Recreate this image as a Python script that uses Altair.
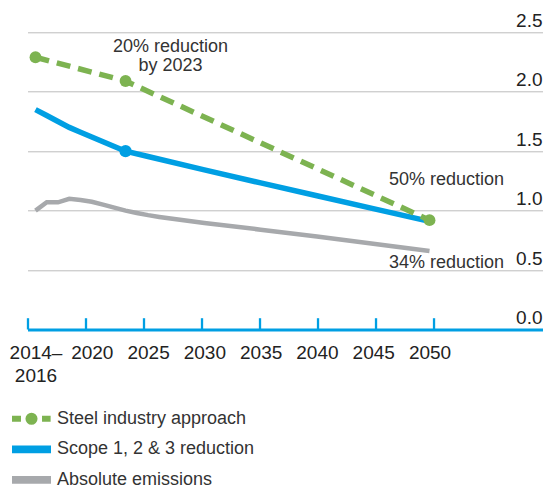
import altair as alt
import pandas as pd

# ---------------- data ----------------
series_names = ["Steel industry approach", "Scope 1, 2 & 3 reduction", "Absolute emissions"]
series_colors = ["#7db351", "#009fe3", "#a7a9ac"]

steel_years = [2015, 2023, 2050]
steel_values = [2.29, 2.09, 0.92]

scope_years = [2015, 2016, 2017, 2018, 2019, 2020, 2021, 2022, 2023, 2025, 2030, 2035, 2040, 2045, 2050]
scope_values = [1.85, 1.80, 1.75, 1.70, 1.66, 1.62, 1.58, 1.54, 1.50, 1.455, 1.343, 1.233, 1.125, 1.017, 0.91]
scope_marker_years = [2023]
scope_marker_values = [1.50]

abs_years = [2015, 2016, 2017, 2018, 2019, 2020, 2021, 2022, 2023, 2024, 2025, 2026, 2030, 2035, 2040, 2045, 2050]
abs_values = [1.00, 1.07, 1.07, 1.10, 1.09, 1.075, 1.05, 1.025, 1.00, 0.98, 0.962, 0.947, 0.895, 0.84, 0.782, 0.722, 0.66]

x_tick_years = [2015, 2020, 2025, 2030, 2035, 2040, 2045, 2050]
y_tick_values = [0.0, 0.5, 1.0, 1.5, 2.0, 2.5]

annot_steel_2023 = "20% reduction\nby 2023"
annot_steel_2050 = "50% reduction"
annot_abs_2050 = "34% reduction"

# legend symbols (custom SVG paths in unit square; circle drawn as a polygon)
legend_symbols = [
    "M-1,-0.15L-0.54,-0.15L-0.54,0.15L-1,0.15Z"
    "M0.54,-0.15L0.98,-0.15L0.98,0.15L0.54,0.15Z"
    "M0.31,0L0.287,0.119L0.219,0.219L0.119,0.287L0,0.31L-0.119,0.287L-0.219,0.219L-0.287,0.119"
    "L-0.31,0L-0.287,-0.119L-0.219,-0.219L-0.119,-0.287L0,-0.31L0.119,-0.287L0.219,-0.219L0.287,-0.119Z",
    "M-1,-0.2L1,-0.2L1,0.2L-1,0.2Z",
    "M-1,-0.2L1,-0.2L1,0.2L-1,0.2Z",
]

FONT = "Liberation Sans"
BLUE = "#009fe3"

steel_df = pd.DataFrame({"year": steel_years, "value": steel_values})
scope_df = pd.DataFrame({"year": scope_years, "value": scope_values})
scope_pt_df = pd.DataFrame({"year": scope_marker_years, "value": scope_marker_values})
abs_df = pd.DataFrame({"year": abs_years, "value": abs_values})
ticks_df = pd.DataFrame({"year": x_tick_years})
legend_df = pd.DataFrame({"series": series_names})

xscale = alt.Scale(domain=[2014.29, 2060.08], nice=False, zero=False)
yscale = alt.Scale(domain=[0, 2.5], nice=False, zero=True)

x_axis = alt.X(
    "year:Q", scale=xscale,
    axis=alt.Axis(
        values=x_tick_years, format="d",
        labelExpr="datum.value == 2015 ? ['2014\u2013', '2016'] : datum.label",
        ticks=False, grid=False,
        domainColor=BLUE, domainWidth=3,
        labelFont=FONT, labelFontSize=19, labelColor="#222",
        labelPadding=14, labelFlush=False, labelOverlap=False,
        labelLineHeight=23, labelBaseline="top",
    ),
    title=None,
)
y_axis = alt.Y(
    "value:Q", scale=yscale,
    axis=alt.Axis(
        orient="right", values=y_tick_values, format=".1f",
        ticks=False, domain=False,
        grid=True, gridColor="#bdbdbd", gridWidth=1,
        labelAlign="right", labelPadding=-1, labelBaseline="alphabetic", labelOffset=-6,
        labelFont=FONT, labelFontSize=19, labelColor="#222",
    ),
    title=None,
)
x_plain = alt.X("year:Q", scale=xscale, title=None)
y_plain = alt.Y("value:Q", scale=yscale, title=None)

abs_line = alt.Chart(abs_df).mark_line(strokeWidth=4.5, strokeCap="butt", color=series_colors[2]).encode(
    x=x_axis, y=y_axis)
scope_line = alt.Chart(scope_df).mark_line(strokeWidth=5.5, strokeCap="butt", color=series_colors[1]).encode(
    x=x_plain, y=y_plain)
steel_line = alt.Chart(steel_df).mark_line(strokeWidth=5.5, strokeDash=[14, 8], color=series_colors[0]).encode(
    x=x_plain, y=y_plain)
scope_pt = alt.Chart(scope_pt_df).mark_circle(size=150, opacity=1, color=series_colors[1]).encode(
    x=x_plain, y=y_plain)
steel_pt = alt.Chart(steel_df).mark_circle(size=140, opacity=1, color=series_colors[0]).encode(
    x=x_plain, y=y_plain)

txt = dict(font=FONT, fontSize=18, color="#333", align="center", baseline="alphabetic")
ann1 = alt.Chart(steel_df.iloc[[1]]).mark_text(dx=45, dy=-29, lineBreak="\n", lineHeight=19, **txt).encode(
    x=x_plain, y=y_plain, text=alt.value(annot_steel_2023))
ann2 = alt.Chart(steel_df.iloc[[2]]).mark_text(dx=17, dy=-35, **txt).encode(
    x=x_plain, y=y_plain, text=alt.value(annot_steel_2050))
ann3 = alt.Chart(abs_df.iloc[[-1]]).mark_text(dx=17, dy=17, **txt).encode(
    x=x_plain, y=y_plain, text=alt.value(annot_abs_2050))

legend_opts = dict(
    title=None, orient="none", legendX=-15.5, legendY=367, direction="vertical",
    symbolSize=1521, symbolStrokeWidth=0, symbolOpacity=1,
    labelFont=FONT, labelFontSize=18, labelColor="#333", labelOffset=6, labelLimit=400,
    rowPadding=1.5, padding=0,
)

# legend carrier: points that only feed the legend (drawn with size 0)
legend_layer = alt.Chart(legend_df).mark_point(filled=True, size=0).encode(
    color=alt.Color("series:N", scale=alt.Scale(domain=series_names, range=series_colors),
                    legend=alt.Legend(**legend_opts)),
    shape=alt.Shape("series:N", scale=alt.Scale(domain=series_names, range=legend_symbols),
                    legend=alt.Legend(**legend_opts)),
)

# axis ticks of the original sit on a slightly different spacing than the data
tick_rules = alt.Chart(ticks_df).transform_calculate(
    tx="2014.334 + (datum.year - 2015) * 1.03047"
).mark_rule(color=BLUE, strokeWidth=2.3).encode(
    x=alt.X("tx:Q", scale=xscale, title=None),
    y=alt.datum(0),
    y2=alt.datum(0.095),
)

chart = alt.layer(
    abs_line, scope_line, steel_line, tick_rules, scope_pt, steel_pt, ann1, ann2, ann3, legend_layer
).properties(
    width=515.5,
    height=297.2,
    autosize=alt.AutoSizeParams(type="none"),
    padding={"left": 19.5, "top": 24.3, "right": 0, "bottom": 160},
    background="white",
).configure_view(stroke=None)

chart.save("out.html", embed_options={"renderer": "svg", "actions": False})
